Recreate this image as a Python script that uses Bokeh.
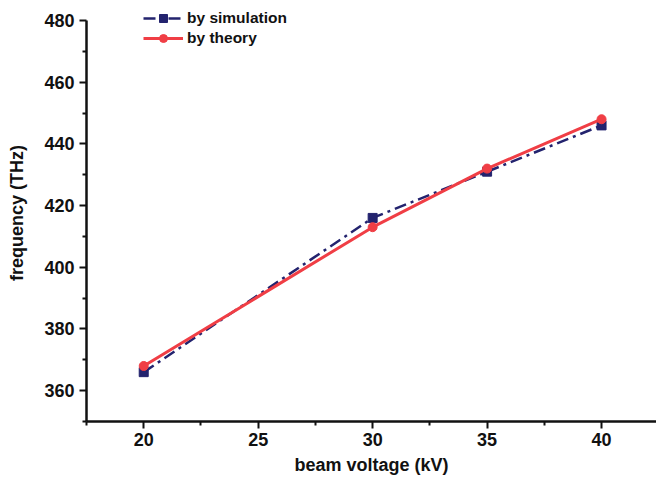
from bokeh.plotting import figure
from bokeh.models import Range1d, Legend, LegendItem, FixedTicker
from bokeh.embed import file_html
from bokeh.resources import INLINE

voltage = [20, 30, 35, 40]
freq_sim = [366, 416, 431, 446]
freq_theory = [368, 413, 432, 448]
x_ticks = [20, 25, 30, 35, 40]
y_ticks = [360, 380, 400, 420, 440, 460, 480]

NAVY = "#23236E"
RED = "#F03E45"
FONT = "Liberation Sans"

p = figure(width=656, height=478, output_backend="svg", toolbar_location=None,
           x_range=Range1d(17.5, 42.4), y_range=Range1d(350, 485.2),
           min_border_left=86, min_border_right=0, min_border_top=4, min_border_bottom=57)
p.outline_line_color = None
p.xgrid.visible = False
p.ygrid.visible = False

for ax in (p.xaxis[0], p.yaxis[0]):
    ax.axis_line_width = 2.5
    ax.axis_line_color = "#111111"
    ax.major_tick_line_width = 2
    ax.minor_tick_line_width = 2
    ax.major_tick_line_color = "#111111"
    ax.minor_tick_line_color = "#111111"
    ax.major_tick_out = 7
    ax.major_tick_in = 0
    ax.minor_tick_out = 4
    ax.minor_tick_in = 0
    ax.major_label_text_font = FONT
    ax.major_label_text_font_style = "bold"
    ax.major_label_text_font_size = "18px"
    ax.major_label_text_color = "#111111"
    ax.axis_label_text_font = FONT
    ax.axis_label_text_font_style = "bold"
    ax.axis_label_text_font_size = "18px"
    ax.axis_label_text_color = "#111111"

p.yaxis.bounds = (350, 480)
p.xaxis.ticker = FixedTicker(ticks=x_ticks, minor_ticks=[17.5, 22.5, 27.5, 32.5, 37.5, 42.5])
p.yaxis.ticker = FixedTicker(ticks=y_ticks, minor_ticks=[350, 370, 390, 410, 430, 450, 470])
p.xaxis.axis_label = "beam voltage (kV)"
p.yaxis.axis_label = "frequency (THz)"
p.xaxis.major_label_standoff = 4
p.xaxis.axis_label_standoff = 6
p.yaxis.major_label_standoff = 5
p.yaxis.axis_label_standoff = 14

l1 = p.line(voltage, freq_sim, line_color=NAVY, line_width=2.5, line_dash="12 5 3 5")
m1 = p.scatter(voltage, freq_sim, marker="square", size=9, fill_color=NAVY, line_color=NAVY)
l2 = p.line(voltage, freq_theory, line_color=RED, line_width=3)
m2 = p.scatter(voltage, freq_theory, marker="circle", size=9, fill_color=RED, line_color=RED)

legend = Legend(items=[LegendItem(label="by simulation", renderers=[l1, m1]),
                       LegendItem(label="by theory", renderers=[l2, m2])],
                location=(57, 373))
legend.border_line_color = None
legend.background_fill_alpha = 0
legend.label_text_font = FONT
legend.label_text_font_style = "bold"
legend.label_text_font_size = "15.5px"
legend.label_text_color = "#111111"
legend.glyph_width = 40
legend.glyph_height = 20
legend.label_height = 20
legend.spacing = 0
legend.padding = 0
legend.margin = 0
legend.label_standoff = 4
p.add_layout(legend)

open("out.html", "w").write(file_html(p, INLINE))
